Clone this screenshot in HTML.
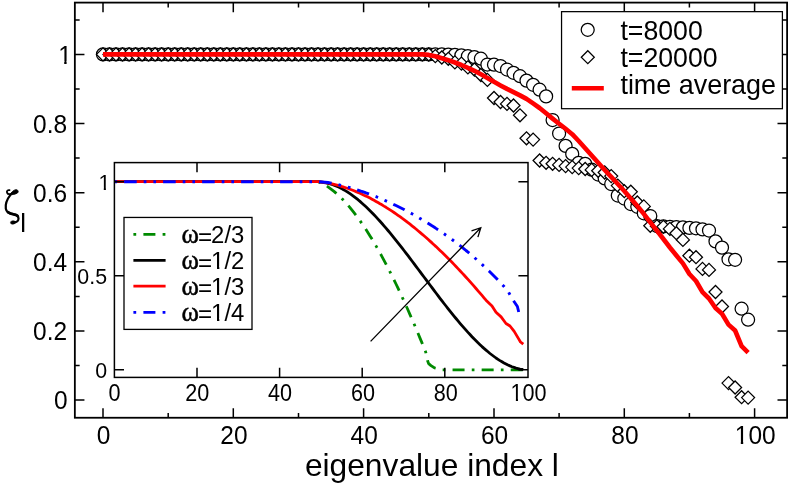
<!DOCTYPE html>
<html><head><meta charset="utf-8"><title>chart</title>
<style>html,body{margin:0;padding:0;background:#fff;overflow:hidden}svg{display:block;position:absolute;left:0;top:0}</style></head>
<body>
<svg width="789" height="484" viewBox="0 0 789 484" font-family="Liberation Sans, sans-serif" style="will-change:transform">
<rect x="0" y="0" width="789" height="484" fill="#fff"/>
<defs><clipPath id="c26_4"><path d="M-2 -26.40H26.40V-2.77H9.09V2H6.52V-2.77H-2Z"/></clipPath><clipPath id="c23"><path d="M-2 -23.00H23.00V-2.42H7.94V2H5.66V-2.42H-2Z"/></clipPath><clipPath id="c22_6"><path d="M-2 -22.60H22.60V-2.37H7.80V2H5.56V-2.37H-2Z"/></clipPath><clipPath id="c24_5"><path d="M-2 -24.50H24.50V-2.57H8.45V2H6.04V-2.57H-2Z"/></clipPath></defs>
<g fill="#fff" stroke="#000" stroke-width="1.25"><circle cx="103.0" cy="54.4" r="6.5"/><circle cx="109.5" cy="54.4" r="6.5"/><circle cx="116.0" cy="54.4" r="6.5"/><circle cx="122.5" cy="54.4" r="6.5"/><circle cx="129.1" cy="54.4" r="6.5"/><circle cx="135.6" cy="54.4" r="6.5"/><circle cx="142.1" cy="54.4" r="6.5"/><circle cx="148.6" cy="54.4" r="6.5"/><circle cx="155.1" cy="54.4" r="6.5"/><circle cx="161.6" cy="54.4" r="6.5"/><circle cx="168.2" cy="54.4" r="6.5"/><circle cx="174.7" cy="54.4" r="6.5"/><circle cx="181.2" cy="54.4" r="6.5"/><circle cx="187.7" cy="54.4" r="6.5"/><circle cx="194.2" cy="54.4" r="6.5"/><circle cx="200.7" cy="54.4" r="6.5"/><circle cx="207.3" cy="54.4" r="6.5"/><circle cx="213.8" cy="54.4" r="6.5"/><circle cx="220.3" cy="54.4" r="6.5"/><circle cx="226.8" cy="54.4" r="6.5"/><circle cx="233.3" cy="54.4" r="6.5"/><circle cx="239.8" cy="54.4" r="6.5"/><circle cx="246.4" cy="54.4" r="6.5"/><circle cx="252.9" cy="54.4" r="6.5"/><circle cx="259.4" cy="54.4" r="6.5"/><circle cx="265.9" cy="54.4" r="6.5"/><circle cx="272.4" cy="54.4" r="6.5"/><circle cx="278.9" cy="54.4" r="6.5"/><circle cx="285.4" cy="54.4" r="6.5"/><circle cx="292.0" cy="54.4" r="6.5"/><circle cx="298.5" cy="54.4" r="6.5"/><circle cx="305.0" cy="54.4" r="6.5"/><circle cx="311.5" cy="54.4" r="6.5"/><circle cx="318.0" cy="54.4" r="6.5"/><circle cx="324.5" cy="54.4" r="6.5"/><circle cx="331.1" cy="54.4" r="6.5"/><circle cx="337.6" cy="54.4" r="6.5"/><circle cx="344.1" cy="54.4" r="6.5"/><circle cx="350.6" cy="54.4" r="6.5"/><circle cx="357.1" cy="54.4" r="6.5"/><circle cx="363.6" cy="54.4" r="6.5"/><circle cx="370.2" cy="54.4" r="6.5"/><circle cx="376.7" cy="54.4" r="6.5"/><circle cx="383.2" cy="54.4" r="6.5"/><circle cx="389.7" cy="54.4" r="6.5"/><circle cx="396.2" cy="54.4" r="6.5"/><circle cx="402.7" cy="54.4" r="6.5"/><circle cx="409.3" cy="54.4" r="6.5"/><circle cx="415.8" cy="54.4" r="6.5"/><circle cx="422.3" cy="54.4" r="6.5"/><circle cx="428.8" cy="54.4" r="6.5"/><circle cx="435.3" cy="54.4" r="6.5"/><circle cx="441.8" cy="54.4" r="6.5"/><circle cx="448.3" cy="54.6" r="6.5"/><circle cx="454.9" cy="54.9" r="6.5"/><circle cx="461.4" cy="55.3" r="6.5"/><circle cx="467.9" cy="56.2" r="6.5"/><circle cx="474.4" cy="57.1" r="6.5"/><circle cx="480.9" cy="58.7" r="6.5"/><circle cx="487.4" cy="64.5" r="6.5"/><circle cx="494.0" cy="64.7" r="6.5"/><circle cx="500.5" cy="66.0" r="6.5"/><circle cx="507.0" cy="69.5" r="6.5"/><circle cx="513.5" cy="72.8" r="6.5"/><circle cx="520.0" cy="76.2" r="6.5"/><circle cx="526.5" cy="80.6" r="6.5"/><circle cx="533.1" cy="84.8" r="6.5"/><circle cx="539.6" cy="89.7" r="6.5"/><circle cx="546.1" cy="96.4" r="6.5"/><circle cx="552.6" cy="120.0" r="6.5"/><circle cx="559.1" cy="133.5" r="6.5"/><circle cx="565.6" cy="145.9" r="6.5"/><circle cx="572.2" cy="153.9" r="6.5"/><circle cx="578.7" cy="162.8" r="6.5"/><circle cx="585.2" cy="163.8" r="6.5"/><circle cx="591.7" cy="169.7" r="6.5"/><circle cx="598.2" cy="174.5" r="6.5"/><circle cx="604.7" cy="178.4" r="6.5"/><circle cx="611.2" cy="184.0" r="6.5"/><circle cx="617.8" cy="195.5" r="6.5"/><circle cx="624.3" cy="198.5" r="6.5"/><circle cx="630.8" cy="204.0" r="6.5"/><circle cx="637.3" cy="206.8" r="6.5"/><circle cx="643.8" cy="213.3" r="6.5"/><circle cx="650.3" cy="216.0" r="6.5"/><circle cx="656.9" cy="226.0" r="6.5"/><circle cx="663.4" cy="226.4" r="6.5"/><circle cx="669.9" cy="226.8" r="6.5"/><circle cx="676.4" cy="227.1" r="6.5"/><circle cx="682.9" cy="227.4" r="6.5"/><circle cx="689.4" cy="227.9" r="6.5"/><circle cx="696.0" cy="228.3" r="6.5"/><circle cx="702.5" cy="229.4" r="6.5"/><circle cx="709.0" cy="230.5" r="6.5"/><circle cx="715.5" cy="241.4" r="6.5"/><circle cx="722.0" cy="247.6" r="6.5"/><circle cx="728.5" cy="259.3" r="6.5"/><circle cx="735.1" cy="259.8" r="6.5"/><circle cx="741.6" cy="308.7" r="6.5"/><circle cx="748.1" cy="319.7" r="6.5"/></g>
<g fill="#fff" stroke="#000" stroke-width="1.25" stroke-linejoin="miter"><path d="M96.5 54.4L103.0 47.9L109.5 54.4L103.0 60.9Z"/><path d="M103.0 54.4L109.5 47.9L116.0 54.4L109.5 60.9Z"/><path d="M109.5 54.4L116.0 47.9L122.5 54.4L116.0 60.9Z"/><path d="M116.0 54.4L122.5 47.9L129.0 54.4L122.5 60.9Z"/><path d="M122.6 54.4L129.1 47.9L135.6 54.4L129.1 60.9Z"/><path d="M129.1 54.4L135.6 47.9L142.1 54.4L135.6 60.9Z"/><path d="M135.6 54.4L142.1 47.9L148.6 54.4L142.1 60.9Z"/><path d="M142.1 54.4L148.6 47.9L155.1 54.4L148.6 60.9Z"/><path d="M148.6 54.4L155.1 47.9L161.6 54.4L155.1 60.9Z"/><path d="M155.1 54.4L161.6 47.9L168.1 54.4L161.6 60.9Z"/><path d="M161.7 54.4L168.2 47.9L174.7 54.4L168.2 60.9Z"/><path d="M168.2 54.4L174.7 47.9L181.2 54.4L174.7 60.9Z"/><path d="M174.7 54.4L181.2 47.9L187.7 54.4L181.2 60.9Z"/><path d="M181.2 54.4L187.7 47.9L194.2 54.4L187.7 60.9Z"/><path d="M187.7 54.4L194.2 47.9L200.7 54.4L194.2 60.9Z"/><path d="M194.2 54.4L200.7 47.9L207.2 54.4L200.7 60.9Z"/><path d="M200.8 54.4L207.3 47.9L213.8 54.4L207.3 60.9Z"/><path d="M207.3 54.4L213.8 47.9L220.3 54.4L213.8 60.9Z"/><path d="M213.8 54.4L220.3 47.9L226.8 54.4L220.3 60.9Z"/><path d="M220.3 54.4L226.8 47.9L233.3 54.4L226.8 60.9Z"/><path d="M226.8 54.4L233.3 47.9L239.8 54.4L233.3 60.9Z"/><path d="M233.3 54.4L239.8 47.9L246.3 54.4L239.8 60.9Z"/><path d="M239.9 54.4L246.4 47.9L252.9 54.4L246.4 60.9Z"/><path d="M246.4 54.4L252.9 47.9L259.4 54.4L252.9 60.9Z"/><path d="M252.9 54.4L259.4 47.9L265.9 54.4L259.4 60.9Z"/><path d="M259.4 54.4L265.9 47.9L272.4 54.4L265.9 60.9Z"/><path d="M265.9 54.4L272.4 47.9L278.9 54.4L272.4 60.9Z"/><path d="M272.4 54.4L278.9 47.9L285.4 54.4L278.9 60.9Z"/><path d="M278.9 54.4L285.4 47.9L291.9 54.4L285.4 60.9Z"/><path d="M285.5 54.4L292.0 47.9L298.5 54.4L292.0 60.9Z"/><path d="M292.0 54.4L298.5 47.9L305.0 54.4L298.5 60.9Z"/><path d="M298.5 54.4L305.0 47.9L311.5 54.4L305.0 60.9Z"/><path d="M305.0 54.4L311.5 47.9L318.0 54.4L311.5 60.9Z"/><path d="M311.5 54.4L318.0 47.9L324.5 54.4L318.0 60.9Z"/><path d="M318.0 54.4L324.5 47.9L331.0 54.4L324.5 60.9Z"/><path d="M324.6 54.4L331.1 47.9L337.6 54.4L331.1 60.9Z"/><path d="M331.1 54.4L337.6 47.9L344.1 54.4L337.6 60.9Z"/><path d="M337.6 54.4L344.1 47.9L350.6 54.4L344.1 60.9Z"/><path d="M344.1 54.4L350.6 47.9L357.1 54.4L350.6 60.9Z"/><path d="M350.6 54.4L357.1 47.9L363.6 54.4L357.1 60.9Z"/><path d="M357.1 54.4L363.6 47.9L370.1 54.4L363.6 60.9Z"/><path d="M363.7 54.4L370.2 47.9L376.7 54.4L370.2 60.9Z"/><path d="M370.2 54.4L376.7 47.9L383.2 54.4L376.7 60.9Z"/><path d="M376.7 54.4L383.2 47.9L389.7 54.4L383.2 60.9Z"/><path d="M383.2 54.4L389.7 47.9L396.2 54.4L389.7 60.9Z"/><path d="M389.7 54.4L396.2 47.9L402.7 54.4L396.2 60.9Z"/><path d="M396.2 54.4L402.7 47.9L409.2 54.4L402.7 60.9Z"/><path d="M402.8 54.4L409.3 47.9L415.8 54.4L409.3 60.9Z"/><path d="M409.3 54.4L415.8 47.9L422.3 54.4L415.8 60.9Z"/><path d="M415.8 54.4L422.3 47.9L428.8 54.4L422.3 60.9Z"/><path d="M422.3 54.5L428.8 48.0L435.3 54.5L428.8 61.0Z"/><path d="M428.8 56.1L435.3 49.6L441.8 56.1L435.3 62.6Z"/><path d="M435.3 57.5L441.8 51.0L448.3 57.5L441.8 64.0Z"/><path d="M441.8 58.8L448.3 52.3L454.8 58.8L448.3 65.3Z"/><path d="M448.4 62.4L454.9 55.9L461.4 62.4L454.9 68.9Z"/><path d="M454.9 63.6L461.4 57.1L467.9 63.6L461.4 70.1Z"/><path d="M461.4 67.4L467.9 60.9L474.4 67.4L467.9 73.9Z"/><path d="M467.9 69.5L474.4 63.0L480.9 69.5L474.4 76.0Z"/><path d="M474.4 75.0L480.9 68.5L487.4 75.0L480.9 81.5Z"/><path d="M480.9 79.9L487.4 73.4L493.9 79.9L487.4 86.4Z"/><path d="M487.5 98.0L494.0 91.5L500.5 98.0L494.0 104.5Z"/><path d="M494.0 102.0L500.5 95.5L507.0 102.0L500.5 108.5Z"/><path d="M500.5 103.9L507.0 97.4L513.5 103.9L507.0 110.4Z"/><path d="M507.0 105.5L513.5 99.0L520.0 105.5L513.5 112.0Z"/><path d="M513.5 115.3L520.0 108.8L526.5 115.3L520.0 121.8Z"/><path d="M520.0 138.3L526.5 131.8L533.0 138.3L526.5 144.8Z"/><path d="M526.6 139.6L533.1 133.1L539.6 139.6L533.1 146.1Z"/><path d="M533.1 160.5L539.6 154.0L546.1 160.5L539.6 167.0Z"/><path d="M539.6 162.8L546.1 156.3L552.6 162.8L546.1 169.3Z"/><path d="M546.1 163.8L552.6 157.3L559.1 163.8L552.6 170.3Z"/><path d="M552.6 164.9L559.1 158.4L565.6 164.9L559.1 171.4Z"/><path d="M559.1 166.1L565.6 159.6L572.1 166.1L565.6 172.6Z"/><path d="M565.7 167.1L572.2 160.6L578.7 167.1L572.2 173.6Z"/><path d="M572.2 168.1L578.7 161.6L585.2 168.1L578.7 174.6Z"/><path d="M578.7 169.0L585.2 162.5L591.7 169.0L585.2 175.5Z"/><path d="M585.2 169.9L591.7 163.4L598.2 169.9L591.7 176.4Z"/><path d="M591.7 170.8L598.2 164.3L604.7 170.8L598.2 177.3Z"/><path d="M598.2 172.5L604.7 166.0L611.2 172.5L604.7 179.0Z"/><path d="M604.7 176.1L611.2 169.6L617.7 176.1L611.2 182.6Z"/><path d="M611.3 185.6L617.8 179.1L624.3 185.6L617.8 192.1Z"/><path d="M617.8 191.2L624.3 184.7L630.8 191.2L624.3 197.7Z"/><path d="M624.3 191.7L630.8 185.2L637.3 191.7L630.8 198.2Z"/><path d="M630.8 202.5L637.3 196.0L643.8 202.5L637.3 209.0Z"/><path d="M637.3 206.4L643.8 199.9L650.3 206.4L643.8 212.9Z"/><path d="M643.8 225.8L650.3 219.3L656.8 225.8L650.3 232.3Z"/><path d="M650.4 226.3L656.9 219.8L663.4 226.3L656.9 232.8Z"/><path d="M656.9 226.8L663.4 220.3L669.9 226.8L663.4 233.3Z"/><path d="M663.4 228.9L669.9 222.4L676.4 228.9L669.9 235.4Z"/><path d="M669.9 233.2L676.4 226.7L682.9 233.2L676.4 239.7Z"/><path d="M676.4 239.9L682.9 233.4L689.4 239.9L682.9 246.4Z"/><path d="M682.9 255.7L689.4 249.2L695.9 255.7L689.4 262.2Z"/><path d="M689.5 257.2L696.0 250.7L702.5 257.2L696.0 263.7Z"/><path d="M696.0 268.9L702.5 262.4L709.0 268.9L702.5 275.4Z"/><path d="M702.5 269.9L709.0 263.4L715.5 269.9L709.0 276.4Z"/><path d="M709.0 292.0L715.5 285.5L722.0 292.0L715.5 298.5Z"/><path d="M715.5 306.5L722.0 300.0L728.5 306.5L722.0 313.0Z"/><path d="M722.0 383.1L728.5 376.6L735.0 383.1L728.5 389.6Z"/><path d="M728.6 387.5L735.1 381.0L741.6 387.5L735.1 394.0Z"/><path d="M735.1 397.2L741.6 390.7L748.1 397.2L741.6 403.7Z"/><path d="M741.6 397.6L748.1 391.1L754.6 397.6L748.1 404.1Z"/></g>
<polyline points="103.0,54.4 109.5,54.4 116.0,54.4 122.5,54.4 129.1,54.4 135.6,54.4 142.1,54.4 148.6,54.4 155.1,54.4 161.6,54.4 168.2,54.4 174.7,54.4 181.2,54.4 187.7,54.4 194.2,54.4 200.7,54.4 207.3,54.4 213.8,54.4 220.3,54.4 226.8,54.4 233.3,54.4 239.8,54.4 246.4,54.4 252.9,54.4 259.4,54.4 265.9,54.4 272.4,54.4 278.9,54.4 285.4,54.4 292.0,54.4 298.5,54.4 305.0,54.4 311.5,54.4 318.0,54.4 324.5,54.4 331.1,54.4 337.6,54.4 344.1,54.4 350.6,54.4 357.1,54.4 363.6,54.4 370.2,54.4 376.7,54.4 383.2,54.4 389.7,54.4 396.2,54.4 402.7,54.4 409.3,54.4 415.8,54.4 422.3,54.4 428.8,54.9 435.3,56.2 441.8,58.2 448.3,60.2 454.9,62.5 461.4,65.0 467.9,67.8 474.4,70.8 480.9,74.3 487.4,77.9 494.0,81.8 500.5,85.4 507.0,88.9 513.5,92.1 520.0,95.4 526.5,98.9 533.1,103.4 539.6,108.0 546.1,113.3 552.6,118.6 559.1,123.7 565.6,128.8 572.2,134.2 578.7,141.0 585.2,148.2 591.7,155.5 598.2,162.8 604.7,170.0 611.2,176.8 617.8,184.0 624.3,191.0 630.8,198.5 637.3,206.0 643.8,213.8 650.3,222.3 656.9,230.7 663.4,239.0 669.9,247.5 676.4,255.5 682.9,263.4 689.4,274.0 696.0,281.0 702.5,292.2 709.0,298.5 715.5,308.0 722.0,313.8 728.5,324.6 735.1,330.5 741.6,346.2 748.1,352.7" fill="none" stroke="#f00" stroke-width="4.6" stroke-linejoin="round"/>
<rect x="74.85" y="2.6" width="712.25" height="415.15" fill="none" stroke="#000" stroke-width="1.8"/>
<path d="M103.0 417.75v-9.6M103.0 2.6v9.6M168.2 417.75v-4.8M168.2 2.6v4.8M233.3 417.75v-9.6M233.3 2.6v9.6M298.5 417.75v-4.8M298.5 2.6v4.8M363.6 417.75v-9.6M363.6 2.6v9.6M428.8 417.75v-4.8M428.8 2.6v4.8M494.0 417.75v-9.6M494.0 2.6v9.6M559.1 417.75v-4.8M559.1 2.6v4.8M624.3 417.75v-9.6M624.3 2.6v9.6M689.4 417.75v-4.8M689.4 2.6v4.8M754.6 417.75v-9.6M754.6 2.6v9.6M74.85 400.1h9.6M787.1 400.1h-9.6M74.85 365.5h4.8M787.1 365.5h-4.8M74.85 330.9h9.6M787.1 330.9h-9.6M74.85 296.4h4.8M787.1 296.4h-4.8M74.85 261.8h9.6M787.1 261.8h-9.6M74.85 227.2h4.8M787.1 227.2h-4.8M74.85 192.7h9.6M787.1 192.7h-9.6M74.85 158.1h4.8M787.1 158.1h-4.8M74.85 123.6h9.6M787.1 123.6h-9.6M74.85 89.0h4.8M787.1 89.0h-4.8M74.85 54.4h9.6M787.1 54.4h-9.6M74.85 19.9h4.8M787.1 19.9h-4.8" stroke="#000" stroke-width="1.5" fill="none"/>
<text transform="translate(103.6,444.4) scale(0.928,1)" font-size="26.4" text-anchor="middle">0</text>
<text transform="translate(233.9,444.4) scale(0.928,1)" font-size="26.4" text-anchor="middle">20</text>
<text transform="translate(364.2,444.4) scale(0.928,1)" font-size="26.4" text-anchor="middle">40</text>
<text transform="translate(494.6,444.4) scale(0.928,1)" font-size="26.4" text-anchor="middle">60</text>
<text transform="translate(624.9,444.4) scale(0.928,1)" font-size="26.4" text-anchor="middle">80</text>
<g transform="translate(734.76,444.4) scale(0.928,1)" clip-path="url(#c26_4)"><text font-size="26.4">1</text></g><text transform="translate(748.39,444.4) scale(0.928,1)" font-size="26.4" text-anchor="start">00</text>
<text transform="translate(67.6,409.3) scale(0.928,1)" font-size="26.4" text-anchor="end">0</text>
<text transform="translate(67.1,340.2) scale(0.928,1)" font-size="26.4" text-anchor="end">0.2</text>
<text transform="translate(67.1,271.1) scale(0.928,1)" font-size="26.4" text-anchor="end">0.4</text>
<text transform="translate(67.1,201.9) scale(0.928,1)" font-size="26.4" text-anchor="end">0.6</text>
<text transform="translate(67.1,132.8) scale(0.928,1)" font-size="26.4" text-anchor="end">0.8</text>
<g transform="translate(58.17,64.0) scale(0.928,1)" clip-path="url(#c26_4)"><text font-size="26.4">1</text></g>
<text x="304.9" y="475.7" font-size="31.5" text-anchor="start" textLength="254" lengthAdjust="spacingAndGlyphs">eigenvalue index l</text>
<g transform="translate(0,183) scale(0.11148)" fill="none" stroke="#000" stroke-linecap="round" stroke-linejoin="round"><path d="M86 64C70 60 58 72 63 86C67 97 78 102 90 100" stroke-width="16"/><path d="M86 106C108 106 136 102 157 89C171 77 159 57 140 60C120 65 102 83 86 106Z" fill="#000" stroke-width="8"/><path d="M97 102C67 140 46 188 52 230C57 262 84 276 120 280C150 284 166 298 166 321C166 343 142 356 116 356" stroke-width="20"/><path d="M72 262C86 273 102 278 122 281C138 283 150 287 157 295" stroke-width="25"/><ellipse cx="116" cy="354" rx="23" ry="16" fill="#000" stroke-width="4" transform="rotate(-8 116 354)"/></g>
<text x="20.35" y="231.7" font-size="26" text-anchor="start">l</text>
<rect x="561.55" y="11.65" width="220.85" height="97.05" fill="#fff" stroke="#000" stroke-width="1.25"/>
<circle cx="587.7" cy="29.8" r="6.5" fill="#fff" stroke="#000" stroke-width="1.25"/>
<path d="M581.3 57.2L587.8 50.7L594.3 57.2L587.8 63.7Z" fill="#fff" stroke="#000" stroke-width="1.25"/>
<path d="M571.8 88.2H603.8" stroke="#f00" stroke-width="4.6"/>
<text transform="translate(620.4,39.8) scale(0.943,1)" font-size="28.3" text-anchor="start">t=8000</text>
<text transform="translate(620.4,67.0) scale(0.943,1)" font-size="28.3" text-anchor="start">t=20000</text>
<text transform="translate(620.4,94.4) scale(0.952,1)" font-size="28.3" text-anchor="start">time average</text>
<polyline points="114.4,181.7 318.0,181.7 322.0,183.3 324.0,184.4 326.0,185.6 328.0,186.9 330.0,188.3 332.0,189.8 334.0,191.4 336.0,193.1 338.0,194.9 340.0,196.8 342.0,198.7 344.0,200.8 346.0,203.0 348.0,205.3 350.0,207.6 352.0,210.1 354.0,212.6 356.0,215.2 358.0,217.9 360.0,220.7 362.0,223.6 364.0,226.5 366.0,229.5 368.0,232.7 370.0,235.9 372.0,239.1 374.0,242.5 376.0,245.9 378.0,249.4 380.0,253.0 382.0,256.6 384.0,260.3 386.0,264.1 388.0,268.0 390.0,271.9 392.0,275.9 394.0,279.9 396.0,284.0 398.0,288.2 400.0,292.5 402.0,296.8 404.0,301.1 406.0,305.5 408.0,310.0 410.0,314.6 412.0,319.2 414.0,323.8 416.0,328.5 418.0,333.2 420.0,338.1 422.0,342.9 424.0,347.8 425.7,352.0 427.6,360.8 428.6,363.6 431.0,365.6 434.5,367.9 442.6,369.9 523.3,369.9" fill="none" stroke="#008a00" stroke-width="2.8" stroke-linejoin="round" stroke-dasharray="2.7 7.2 12 7.2" stroke-dashoffset="0"/>
<polyline points="114.4,181.7 318.0,181.7 324.0,182.5 326.0,182.8 328.0,183.3 330.0,183.8 332.0,184.4 334.0,185.1 336.0,185.9 338.0,186.8 340.0,187.7 342.0,188.8 344.0,189.9 346.0,191.1 348.0,192.3 350.0,193.7 352.0,195.1 354.0,196.6 356.0,198.1 358.0,199.7 360.0,201.4 362.0,203.2 364.0,205.0 366.0,206.8 368.0,208.7 370.0,210.7 372.0,212.7 374.0,214.8 376.0,216.9 378.0,219.1 380.0,221.3 382.0,223.5 384.0,225.8 386.0,228.1 388.0,230.5 390.0,232.9 392.0,235.3 394.0,237.8 396.0,240.3 398.0,242.8 400.0,245.3 402.0,247.9 404.0,250.5 406.0,253.1 408.0,255.7 410.0,258.3 412.0,261.0 414.0,263.6 416.0,266.3 418.0,269.0 420.0,271.6 422.0,274.3 424.0,277.0 426.0,279.7 428.0,282.4 430.0,285.0 432.0,287.7 434.0,290.4 436.0,293.0 438.0,295.6 440.0,298.3 442.0,300.9 444.0,303.5 446.0,306.0 448.0,308.6 450.0,311.1 452.0,313.6 454.0,316.1 456.0,318.5 458.0,320.9 460.0,323.3 462.0,325.6 464.0,327.9 466.0,330.2 468.0,332.4 470.0,334.5 472.0,336.7 474.0,338.8 476.0,340.8 478.0,342.8 480.0,344.7 482.0,346.6 484.0,348.4 486.0,350.1 488.0,351.8 490.0,353.5 492.0,355.0 494.0,356.5 496.0,358.0 498.0,359.3 500.0,360.6 502.0,361.8 504.0,363.0 506.0,364.0 508.0,365.0 510.0,365.9 512.0,366.7 514.0,367.4 516.0,368.1 518.0,368.6 520.0,369.1 522.0,369.4 523.3,369.6" fill="none" stroke="#000" stroke-width="2.8" stroke-linejoin="round"/>
<polyline points="114.4,181.7 318.0,181.7 326.0,182.6 328.0,183.0 330.0,183.4 332.0,183.8 334.0,184.3 336.0,184.8 338.0,185.4 340.0,186.0 342.0,186.6 344.0,187.2 346.0,187.9 348.0,188.5 350.0,189.3 352.0,190.0 354.0,190.8 356.0,191.6 358.0,192.5 360.0,193.3 362.0,194.2 364.0,195.2 366.0,196.1 368.0,197.1 370.0,198.1 372.0,199.2 374.0,200.3 376.0,201.4 378.0,202.5 380.0,203.7 382.0,204.8 384.0,206.1 386.0,207.3 388.0,208.6 390.0,209.9 392.0,211.2 394.0,212.5 396.0,213.9 398.0,215.3 400.0,216.7 402.0,218.2 404.0,219.6 406.0,221.1 408.0,222.7 410.0,224.2 412.0,225.8 414.0,227.4 416.0,229.0 418.0,230.7 420.0,232.4 422.0,234.1 424.0,235.8 426.0,237.5 428.0,239.3 430.0,241.1 432.0,242.9 434.0,244.8 436.0,246.6 438.0,248.5 440.0,250.4 442.0,252.3 444.0,254.3 446.0,256.3 448.0,258.3 450.0,260.3 452.0,262.3 454.0,264.4 456.0,266.5 458.0,268.6 460.0,270.7 462.0,272.9 464.0,275.0 466.0,277.2 468.0,279.4 470.0,281.7 472.0,283.9 474.0,286.2 476.0,288.5 478.0,290.8 480.0,293.1 482.0,295.4 484.0,297.8 486.0,300.2 492.0,306.0 496.0,312.3 501.1,316.9 506.0,323.5 510.0,326.0 514.2,331.4 518.5,338.6 520.5,342.0 523.3,344.2" fill="none" stroke="#f00" stroke-width="2.8" stroke-linejoin="round"/>
<polyline points="114.4,181.7 318.0,181.7 328.0,182.5 330.0,182.9 332.0,183.3 334.0,183.7 336.0,184.1 338.0,184.6 340.0,185.1 342.0,185.6 344.0,186.1 346.0,186.6 348.0,187.1 350.0,187.7 352.0,188.3 354.0,188.9 356.0,189.5 358.0,190.1 360.0,190.8 362.0,191.5 364.0,192.1 366.0,192.9 368.0,193.6 370.0,194.3 372.0,195.1 374.0,195.9 376.0,196.6 378.0,197.5 380.0,198.3 382.0,199.1 384.0,200.0 386.0,200.9 388.0,201.8 390.0,202.7 392.0,203.6 394.0,204.6 396.0,205.5 398.0,206.5 400.0,207.5 402.0,208.5 404.0,209.5 406.0,210.6 408.0,211.7 410.0,212.7 412.0,213.8 414.0,215.0 416.0,216.1 418.0,217.2 420.0,218.4 422.0,219.6 424.0,220.8 426.0,222.0 428.0,223.2 430.0,224.5 432.0,225.8 434.0,227.0 436.0,228.4 438.0,229.7 440.0,231.0 442.0,232.4 444.0,233.8 446.0,235.2 448.0,236.6 450.0,238.1 452.0,239.5 454.0,241.0 456.0,242.5 458.0,244.1 460.0,245.6 462.0,247.2 464.0,248.8 466.0,250.5 468.0,252.1 470.0,253.8 472.0,255.5 474.0,257.2 476.0,259.0 478.0,260.8 480.0,262.6 482.0,264.4 484.0,266.3 486.0,268.2 488.0,270.1 490.0,272.0 492.0,274.0 494.0,276.0 496.0,278.0 498.0,280.1 500.0,282.2 502.0,284.3 504.0,286.4 506.0,288.6 507.7,290.5 512.0,298.5 517.4,306.5 519.2,314.0 520.5,318.0" fill="none" stroke="#0000ff" stroke-width="2.9" stroke-linejoin="round" stroke-dasharray="2.7 7 12.6 7 2.7 7" stroke-dashoffset="0"/>
<path d="M370.6 341.4L480.8 227.7M471.5 230.9L480.8 227.7L477.9 237.1" fill="none" stroke="#000" stroke-width="1.3"/>
<rect x="114.4" y="162.6" width="413.6" height="214.8" fill="none" stroke="#000" stroke-width="1.5"/>
<path d="M197.0 377.45v-9.6M197.0 162.6v9.6M279.6 377.45v-9.6M279.6 162.6v9.6M362.2 377.45v-9.6M362.2 162.6v9.6M444.8 377.45v-9.6M444.8 162.6v9.6M114.4 369.8h9.6M528.0 369.8h-9.6M114.4 275.8h9.6M528.0 275.8h-9.6M114.4 181.7h9.6M528.0 181.7h-9.6" stroke="#000" stroke-width="1.5" fill="none"/>
<text transform="translate(114.5,401.4) scale(0.94,1)" font-size="23" text-anchor="middle">0</text>
<text transform="translate(197.3,401.4) scale(0.94,1)" font-size="23" text-anchor="middle">20</text>
<text transform="translate(280.1,401.4) scale(0.94,1)" font-size="23" text-anchor="middle">40</text>
<text transform="translate(363.0,401.4) scale(0.94,1)" font-size="23" text-anchor="middle">60</text>
<text transform="translate(445.8,401.4) scale(0.94,1)" font-size="23" text-anchor="middle">80</text>
<g transform="translate(510.56,401.4) scale(0.94,1)" clip-path="url(#c23)"><text font-size="23">1</text></g><text transform="translate(522.59,401.4) scale(0.94,1)" font-size="23" text-anchor="start">00</text>
<text transform="translate(107.0,377.9) scale(0.945,1)" font-size="22.6" text-anchor="end">0</text>
<text transform="translate(107.0,283.9) scale(0.945,1)" font-size="22.6" text-anchor="end">0.5</text>
<g transform="translate(98.52,190.1) scale(0.945,1)" clip-path="url(#c22_6)"><text font-size="22.6">1</text></g>
<rect x="124.0" y="217.45" width="128.0" height="111.95" fill="#fff" stroke="#000" stroke-width="1.3"/>
<path d="M133.4 234.3H165.6" stroke="#008a00" stroke-width="2.8" stroke-dasharray="2.8 7.2 12 7.2" />
<path d="M133.4 260.3H165.6" stroke="#000" stroke-width="2.8"/>
<path d="M133.4 286.2H165.6" stroke="#f00" stroke-width="2.8"/>
<path d="M133.4 312.3H165.6" stroke="#00f" stroke-width="2.8" stroke-dasharray="2.8 7.2 12 7.2"/>
<text x="181.6" y="242.9" font-size="26.5" font-family="Liberation Serif, serif" stroke="#000" stroke-width="0.5" stroke-linejoin="round">ω</text>
<text transform="translate(198.0,244.5) scale(1.03,1)" font-size="23.5" text-anchor="start">=</text>
<text transform="translate(211.1,242.9) scale(0.975,1)" font-size="24.5" text-anchor="start">2/3</text>
<text x="181.6" y="268.9" font-size="26.5" font-family="Liberation Serif, serif" stroke="#000" stroke-width="0.5" stroke-linejoin="round">ω</text>
<text transform="translate(198.0,270.5) scale(1.03,1)" font-size="23.5" text-anchor="start">=</text>
<g transform="translate(211.10,268.9) scale(0.975,1)" clip-path="url(#c24_5)"><text font-size="24.5">1</text></g><text transform="translate(224.39,268.9) scale(0.975,1)" font-size="24.5" text-anchor="start">/2</text>
<text x="181.6" y="294.7" font-size="26.5" font-family="Liberation Serif, serif" stroke="#000" stroke-width="0.5" stroke-linejoin="round">ω</text>
<text transform="translate(198.0,296.3) scale(1.03,1)" font-size="23.5" text-anchor="start">=</text>
<g transform="translate(211.10,294.7) scale(0.975,1)" clip-path="url(#c24_5)"><text font-size="24.5">1</text></g><text transform="translate(224.39,294.7) scale(0.975,1)" font-size="24.5" text-anchor="start">/3</text>
<text x="181.6" y="320.6" font-size="26.5" font-family="Liberation Serif, serif" stroke="#000" stroke-width="0.5" stroke-linejoin="round">ω</text>
<text transform="translate(198.0,322.2) scale(1.03,1)" font-size="23.5" text-anchor="start">=</text>
<g transform="translate(211.10,320.6) scale(0.975,1)" clip-path="url(#c24_5)"><text font-size="24.5">1</text></g><text transform="translate(224.39,320.6) scale(0.975,1)" font-size="24.5" text-anchor="start">/4</text>
</svg>
</body></html>
